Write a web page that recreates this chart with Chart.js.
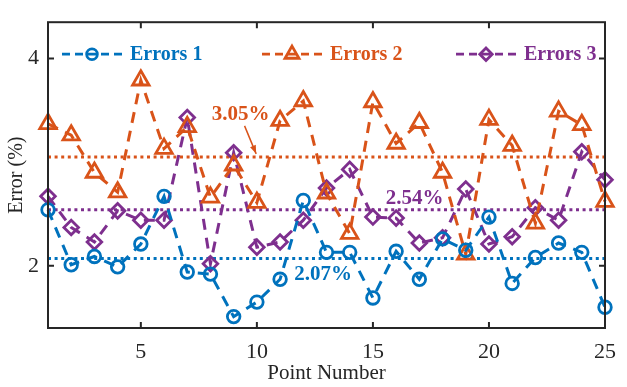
<!DOCTYPE html>
<html>
<head>
<meta charset="utf-8">
<script src="https://cdn.jsdelivr.net/npm/chart.js@4.4.1/dist/chart.umd.min.js"></script>
<style>
  html,body{margin:0;padding:0;background:#fff}
  #wrap{width:627px;height:387px;position:relative}
</style>
</head>
<body>
<div id="wrap"><canvas id="c"></canvas></div>
<script>
// data
const pointNumbers = [1,2,3,4,5,6,7,8,9,10,11,12,13,14,15,16,17,18,19,20,21,22,23,24,25];
const errors1 = [2.54,2.01,2.09,1.99,2.21,2.67,1.94,1.92,1.51,1.65,1.87,2.63,2.13,2.13,1.69,2.14,1.87,2.26,2.15,2.47,1.83,2.08,2.22,2.13,1.60];
const errors2 = [3.37,3.26,2.90,2.71,3.79,3.13,3.34,2.66,2.97,2.61,3.40,3.59,2.70,2.31,3.58,3.18,3.38,2.90,2.11,3.41,3.16,2.41,3.49,3.36,2.62];
const errors3 = [2.67,2.37,2.23,2.53,2.44,2.44,3.43,2.02,3.09,2.18,2.23,2.44,2.75,2.93,2.47,2.46,2.22,2.27,2.74,2.21,2.28,2.56,2.44,3.10,2.83];
const seriesNames = ['Errors 1','Errors 2','Errors 3'];
const meanValues = [2.07,3.05,2.54];
const meanLabels = ['2.07%','3.05%','2.54%'];
// where the mean labels sit (data coords)
const meanLabelX = [12.85,9.3,16.8];
const meanLabelY = [1.92,3.46,2.65];
const xTicks = [5,10,15,20,25];
const yTicks = [2,4];

const colors = ['#0072BD','#D95319','#7E2F8E'];
const styles = ['circle','triangle','rectRot'];
const radii  = [6.3,9.5,7.3];
const SERIF = '"Liberation Serif","Times New Roman",serif';
const INK = '#262626';

function pts(ys){ return pointNumbers.map(function(x,i){ return {x:x, y:ys[i]}; }); }

const series = [errors1, errors2, errors3].map(function(ys,i){
  return { label:seriesNames[i], data:pts(ys), borderColor:colors[i], backgroundColor:'rgba(0,0,0,0)',
    borderWidth:3, borderDash:[11,8], pointStyle:styles[i], pointRadius:radii[i], pointBorderWidth:2.8,
    pointBorderColor:colors[i], pointBackgroundColor:'rgba(0,0,0,0)', tension:0, clip:false };
});
const means = meanValues.map(function(m,i){
  return { label:'mean'+(i+1), data:[{x:pointNumbers[0],y:m},{x:pointNumbers[pointNumbers.length-1],y:m}],
    borderColor:colors[i], borderWidth:3, borderDash:[3,3.6], pointRadius:0, clip:false };
});

const decor = {
  id:'decor',
  afterDraw(chart){
    const ctx=chart.ctx, a=chart.chartArea, xs=chart.scales.x, ys=chart.scales.y;
    ctx.save();
    // box + inward ticks
    ctx.strokeStyle=INK; ctx.lineWidth=2; ctx.setLineDash([]);
    ctx.strokeRect(a.left, a.top, a.right-a.left, a.bottom-a.top);
    ctx.beginPath();
    xTicks.forEach(function(v){
      const px=xs.getPixelForValue(v);
      ctx.moveTo(px,a.bottom); ctx.lineTo(px,a.bottom-6);
      ctx.moveTo(px,a.top); ctx.lineTo(px,a.top+6);
    });
    yTicks.forEach(function(v){
      const py=ys.getPixelForValue(v);
      ctx.moveTo(a.left,py); ctx.lineTo(a.left+6,py);
      ctx.moveTo(a.right,py); ctx.lineTo(a.right-6,py);
    });
    ctx.stroke();

    // legend (inside, one row)
    const lx=[14,214,408], ly=a.top+32;
    ctx.font='bold 20px '+SERIF; ctx.textBaseline='middle'; ctx.textAlign='left';
    seriesNames.forEach(function(name,i){
      const x0=a.left+lx[i];
      ctx.strokeStyle=colors[i]; ctx.lineWidth=2.8; ctx.setLineDash([8,5]);
      ctx.beginPath(); ctx.moveTo(x0,ly); ctx.lineTo(x0+60,ly); ctx.stroke();
      ctx.setLineDash([]); ctx.fillStyle='rgba(0,0,0,0)';
      Chart.helpers.drawPoint(ctx,{pointStyle:styles[i],radius:radii[i]*0.85,borderWidth:2.5,rotation:0},x0+30,ly);
      ctx.fillStyle=colors[i];
      ctx.fillText(name,x0+68,ly+1);
    });

    // mean labels
    ctx.font='bold 21px '+SERIF; ctx.textAlign='center';
    meanLabels.forEach(function(t,i){
      ctx.fillStyle=colors[i];
      ctx.fillText(t, xs.getPixelForValue(meanLabelX[i]), ys.getPixelForValue(meanLabelY[i]));
    });
    // arrow to the 3.05% line
    const ax0=xs.getPixelForValue(9.47), ay0=ys.getPixelForValue(3.35);
    const ax1=xs.getPixelForValue(9.97), ay1=ys.getPixelForValue(3.08);
    ctx.strokeStyle=colors[1]; ctx.fillStyle=colors[1]; ctx.lineWidth=1.5;
    ctx.beginPath(); ctx.moveTo(ax0,ay0); ctx.lineTo(ax1,ay1); ctx.stroke();
    const ang=Math.atan2(ay1-ay0,ax1-ax0);
    ctx.beginPath(); ctx.moveTo(ax1,ay1);
    ctx.lineTo(ax1-9*Math.cos(ang-0.35),ay1-9*Math.sin(ang-0.35));
    ctx.lineTo(ax1-9*Math.cos(ang+0.35),ay1-9*Math.sin(ang+0.35));
    ctx.closePath(); ctx.fill();
    ctx.restore();
  }
};

new Chart(document.getElementById('c'), {
  type:'line',
  data:{ datasets: series.concat(means) },
  options:{
    responsive:true, maintainAspectRatio:false, animation:false,
    layout:{ padding:{ top:8, right:12, left:0, bottom:0 } },
    plugins:{ legend:{display:false}, tooltip:{enabled:false} },
    scales:{
      x:{ type:'linear', min:1, max:25,
        afterFit:function(s){ s.height=59; },
        afterBuildTicks:function(s){ s.ticks=xTicks.map(function(v){ return {value:v}; }); },
        grid:{display:false, drawTicks:false}, border:{display:false},
        ticks:{ color:INK, font:{family:SERIF,size:22}, padding:11, maxRotation:0 },
        title:{ display:true, text:'Point Number', color:INK, font:{family:SERIF,size:21}, padding:{top:0,bottom:1} }
      },
      y:{ type:'linear', min:1.4, max:4.35,
        afterFit:function(s){ s.width=48; },
        afterBuildTicks:function(s){ s.ticks=yTicks.map(function(v){ return {value:v}; }); },
        grid:{display:false, drawTicks:false}, border:{display:false},
        ticks:{ color:INK, font:{family:SERIF,size:22}, padding:9 },
        title:{ display:true, text:'Error (%)', color:INK, font:{family:SERIF,size:20}, padding:{top:5,bottom:0} }
      }
    }
  },
  plugins:[decor]
});
</script>
</body>
</html>
